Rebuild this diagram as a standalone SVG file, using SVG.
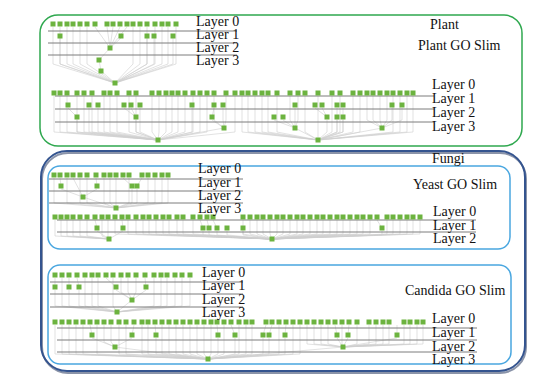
<svg xmlns="http://www.w3.org/2000/svg" xmlns:xlink="http://www.w3.org/1999/xlink" width="541" height="380" viewBox="0 0 541 380">
<style>
.n{fill:#6cb33f}
.e{fill:none;stroke:#cfcfcf;stroke-width:.6}
.sep{stroke:#7d7d7d;stroke-width:1}
.t{font-family:"Liberation Serif","Times New Roman",serif;font-size:14px;fill:#111}
.box{fill:none}
</style>
<defs><rect id="s" class="n" x="-2.5" y="-2.5" width="5" height="5"/></defs>
<rect width="541" height="380" fill="#fff"/>
<g id="frames">
<rect id="plant-box" class="box" x="40" y="15" width="482" height="131" rx="18" stroke="#2fa84f" stroke-width="1.5"/>
<rect id="fungi-shadow" class="box" x="42" y="153" width="484" height="220" rx="26" stroke="#8a93a8" stroke-width="2"/>
<rect id="fungi-box" class="box" x="41" y="151" width="484" height="220" rx="26" stroke="#34548f" stroke-width="2"/>
<rect id="yeast-box" class="box" x="48" y="166" width="462" height="83" rx="12" stroke="#4aa7e0" stroke-width="1.5"/>
<rect id="candida-box" class="box" x="48" y="265" width="463" height="99" rx="12" stroke="#4aa7e0" stroke-width="1.5"/>
</g>
<g id="connectors">
<path class="e" d="M53 27V64L115 83M60 27V64L115 83M67 27V64L115 83M73 27V64L115 83M80 27V64L115 83M87 27V64L115 83M95 27L110 48M107 27L110 48M113 27L110 48M120 27L110 48M127 27L110 48M133 27V64L115 83M140 27V64L115 83M147 27V64L115 83M155 27V64L115 83M162 27V64L115 83M168 27V64L115 83M176 27V64L115 83M60 38V64L115 83M121 38L110 48M147 38V64L115 83M154 38V64L115 83M173 38V64L115 83M110 48L99 60L101 71L115 83"/>
<path class="e" d="M54 96V132L158 140M60 96V132L158 140M67 96V132L158 140M77 96V132L158 140M84 96V132L158 140M92 96V132L158 140M104 96V132L158 140M110 96V132L158 140M117 96V132L158 140M129 96V132L158 140M136 96V132L158 140M152 96V132L158 140M159 96V132L158 140M166 96V132L158 140M172 96V132L158 140M178 96V132L158 140M185 96V132L158 140M193 96V132L158 140M200 96V132L158 140M207 96V132L158 140M214 96V120L224 128M226 96V120L224 128M235 96V132L158 140M242 96V132L318 140M248 96V132L318 140M255 96V132L318 140M262 96V132L318 140M268 96V132L318 140M277 96V132L318 140M290 96V120L295 128M298 96V120L295 128M305 96V132L318 140M318 96V132L318 140M332 96V132L318 140M340 96V132L318 140M353 96V132L318 140M360 96V132L318 140M367 96V120L382 128M373 96V120L382 128M380 96V120L382 128M387 96V120L382 128M393 96V132L318 140M400 96V132L318 140M407 96V132L318 140M413 96V132L318 140M68 108L77 117M89 108V132L158 140M98 108V132L158 140M124 108L136 117M131 108L136 117M140 108V132L158 140M192 108V132L158 140M214 108L212 117M223 108V120L224 128M295 108V120L295 128M315 108L327 117M322 108L327 117M337 108V132L318 140M343 108V132L318 140M392 108V120L382 128M402 108V120L382 128M77 120V132L158 140M136 120V132L158 140M212 120L224 128M274 120L295 128M283 120L295 128M327 120V132L318 140M337 120V132L318 140M343 120V132L318 140M224 128L158 140M295 128L318 140M382 128L318 140"/>
<path class="e" d="M54 178V203L116 208M60 178L61 186M67 178V203L116 208M73 178L83 197M80 178V203L116 208M87 178V203L116 208M96 178L97 186M104 178V203L116 208M110 178V203L116 208M116 178V203L116 208M123 178L132 186M129 178V203L116 208M142 178L137 186M148 178V203L116 208M155 178V203L116 208M162 178V203L116 208M168 178V203L116 208M61 189L83 197M97 189L83 197M132 189V203L116 208M137 189V203L116 208M83 197L116 208"/>
<path class="e" d="M55 220V236L109 239M61 220V236L109 239M67 220V236L109 239M73 220V236L109 239M80 220V236L109 239M87 220V236L109 239M95 220L97 228M102 220V236L109 239M108 220V236L109 239M115 220V234L272 239M122 220L123 228M128 220V234L272 239M136 220V234L272 239M143 220V234L272 239M149 220V234L272 239M156 220V234L272 239M163 220V234L272 239M169 220V234L272 239M177 220V234L272 239M183 220V234L272 239M193 220V234L272 239M200 220L203 228M207 220L209 228M213 220L217 228M243 220V234L272 239M250 220V234L272 239M257 220V234L272 239M263 220V234L272 239M270 220V234L272 239M277 220V234L272 239M283 220V234L272 239M290 220V234L272 239M297 220V234L272 239M303 220V234L272 239M310 220V234L272 239M317 220V234L272 239M323 220V234L272 239M330 220V234L272 239M337 220V234L272 239M343 220V234L272 239M350 220V234L272 239M357 220V234L272 239M363 220V234L272 239M370 220V234L272 239M377 220L382 228M387 220V234L272 239M393 220V234L272 239M400 220V234L272 239M407 220V234L272 239M413 220V234L272 239M420 220V234L272 239M97 231L109 239M123 231L109 239M203 231V235L272 239M209 231V235L272 239M217 231V235L272 239M227 231V235L272 239M243 231V235L272 239M382 231V235L272 239"/>
<path class="e" d="M55 278V284L55 287M62 278V306L117 312M69 278L69 287M77 278L79 287M85 278V306L117 312M92 278V306L117 312M98 278V306L117 312M106 278L116 287M113 278V306L117 312M121 278V292L132 300M128 278V292L132 300M136 278V292L132 300M145 278L146 287M154 278V306L117 312M161 278V306L117 312M167 278V306L117 312M175 278V306L117 312M182 278V306L117 312M190 278V306L117 312M55 290V306L117 312M69 290V306L117 312M79 290V306L117 312M116 290L132 300M146 290L132 300M132 300L117 312"/>
<path class="e" d="M55 325V354L208 359M62 325V354L208 359M69 325V354L208 359M76 325V354L208 359M83 325V354L208 359M90 325L92 335M97 325V354L208 359M104 325V342L115 347M111 325V342L115 347M119 325V354L208 359M126 325V354L208 359M134 325L132 335M142 325V354L208 359M148 325V354L208 359M155 325L156 335M162 325V354L208 359M169 325V354L208 359M176 325V354L208 359M183 325V354L208 359M190 325V354L208 359M197 325V354L208 359M204 325V354L208 359M211 325V354L208 359M217 325L218 335M224 325V354L208 359M231 325L235 335M239 325V354L208 359M246 325V354L208 359M252 325V354L208 359M266 325L263 335M272 325L269 335M279 325V354L208 359M286 325L285 335M293 325V354L208 359M300 325V354L208 359M307 325V344L343 347M314 325V344L343 347M321 325V344L343 347M328 325V344L343 347M335 325L337 335M342 325V344L343 347M349 325L348 335M357 325V344L343 347M369 325V344L343 347M376 325V344L343 347M383 325V344L343 347M389 325V344L343 347M397 325L397 335M404 325V344L343 347M410 325V344L343 347M417 325V344L343 347M423 325V344L343 347M92 338L115 347M132 338L115 347M156 338V354L208 359M218 338V354L208 359M235 338V354L208 359M263 338V354L208 359M269 338V354L208 359M285 338V354L208 359M337 338L343 347M348 338L343 347M397 338L343 347M115 347L208 359M343 347L208 359"/>
</g>
<g id="separators">
<path class="sep" d="M48 31H237M48 43H237M48 55H237"/>
<path class="sep" d="M55 96H434M55 109H434M55 122H434"/>
<path class="sep" d="M49 179H243M49 191H243M49 203H243"/>
<path class="sep" d="M57 220H476M57 232H476"/>
<path class="sep" d="M50 282H243M50 294H243M50 307H243"/>
<path class="sep" d="M57 328H477M57 340H477M57 352H477"/>
</g>
<g id="plant1-layer0"><use href="#s" x="53" y="24"/><use href="#s" x="60" y="24"/><use href="#s" x="67" y="24"/><use href="#s" x="73" y="24"/><use href="#s" x="80" y="24"/><use href="#s" x="87" y="24"/><use href="#s" x="95" y="24"/><use href="#s" x="107" y="24"/><use href="#s" x="113" y="24"/><use href="#s" x="120" y="24"/><use href="#s" x="127" y="24"/><use href="#s" x="133" y="24"/><use href="#s" x="140" y="24"/><use href="#s" x="147" y="24"/><use href="#s" x="155" y="24"/><use href="#s" x="162" y="24"/><use href="#s" x="168" y="24"/><use href="#s" x="176" y="24"/></g>
<g id="plant1-layer1"><use href="#s" x="60" y="36"/><use href="#s" x="121" y="36"/><use href="#s" x="147" y="36"/><use href="#s" x="154" y="36"/><use href="#s" x="173" y="36"/></g>
<g id="plant1-deep"><use href="#s" x="110" y="48"/><use href="#s" x="99" y="60"/><use href="#s" x="101" y="71"/><use href="#s" x="115" y="83"/></g>
<g id="plant2-layer0"><use href="#s" x="54" y="93"/><use href="#s" x="60" y="93"/><use href="#s" x="67" y="93"/><use href="#s" x="77" y="93"/><use href="#s" x="84" y="93"/><use href="#s" x="92" y="93"/><use href="#s" x="104" y="93"/><use href="#s" x="110" y="93"/><use href="#s" x="117" y="93"/><use href="#s" x="129" y="93"/><use href="#s" x="136" y="93"/><use href="#s" x="152" y="93"/><use href="#s" x="159" y="93"/><use href="#s" x="166" y="93"/><use href="#s" x="172" y="93"/><use href="#s" x="178" y="93"/><use href="#s" x="185" y="93"/><use href="#s" x="193" y="93"/><use href="#s" x="200" y="93"/><use href="#s" x="207" y="93"/><use href="#s" x="214" y="93"/><use href="#s" x="226" y="93"/><use href="#s" x="235" y="93"/><use href="#s" x="242" y="93"/><use href="#s" x="248" y="93"/><use href="#s" x="255" y="93"/><use href="#s" x="262" y="93"/><use href="#s" x="268" y="93"/><use href="#s" x="277" y="93"/><use href="#s" x="290" y="93"/><use href="#s" x="298" y="93"/><use href="#s" x="305" y="93"/><use href="#s" x="318" y="93"/><use href="#s" x="332" y="93"/><use href="#s" x="340" y="93"/><use href="#s" x="353" y="93"/><use href="#s" x="360" y="93"/><use href="#s" x="367" y="93"/><use href="#s" x="373" y="93"/><use href="#s" x="380" y="93"/><use href="#s" x="387" y="93"/><use href="#s" x="393" y="93"/><use href="#s" x="400" y="93"/><use href="#s" x="407" y="93"/><use href="#s" x="413" y="93"/></g>
<g id="plant2-layer1"><use href="#s" x="68" y="105"/><use href="#s" x="89" y="105"/><use href="#s" x="98" y="105"/><use href="#s" x="124" y="105"/><use href="#s" x="131" y="105"/><use href="#s" x="140" y="105"/><use href="#s" x="192" y="105"/><use href="#s" x="214" y="105"/><use href="#s" x="223" y="105"/><use href="#s" x="295" y="105"/><use href="#s" x="315" y="105"/><use href="#s" x="322" y="105"/><use href="#s" x="337" y="105"/><use href="#s" x="343" y="105"/><use href="#s" x="392" y="105"/><use href="#s" x="402" y="105"/></g>
<g id="plant2-layer2"><use href="#s" x="77" y="117"/><use href="#s" x="136" y="117"/><use href="#s" x="212" y="117"/><use href="#s" x="274" y="117"/><use href="#s" x="283" y="117"/><use href="#s" x="327" y="117"/><use href="#s" x="337" y="117"/><use href="#s" x="343" y="117"/></g>
<g id="plant2-layer3"><use href="#s" x="224" y="128"/><use href="#s" x="295" y="128"/><use href="#s" x="382" y="128"/></g>
<g id="plant2-roots"><use href="#s" x="158" y="140"/><use href="#s" x="318" y="140"/></g>
<g id="yeast1-layer0"><use href="#s" x="54" y="175"/><use href="#s" x="60" y="175"/><use href="#s" x="67" y="175"/><use href="#s" x="73" y="175"/><use href="#s" x="80" y="175"/><use href="#s" x="87" y="175"/><use href="#s" x="96" y="175"/><use href="#s" x="104" y="175"/><use href="#s" x="110" y="175"/><use href="#s" x="116" y="175"/><use href="#s" x="123" y="175"/><use href="#s" x="129" y="175"/><use href="#s" x="142" y="175"/><use href="#s" x="148" y="175"/><use href="#s" x="155" y="175"/><use href="#s" x="162" y="175"/><use href="#s" x="168" y="175"/></g>
<g id="yeast1-layer1"><use href="#s" x="61" y="186"/><use href="#s" x="97" y="186"/><use href="#s" x="132" y="186"/><use href="#s" x="137" y="186"/></g>
<g id="yeast1-deep"><use href="#s" x="83" y="197"/><use href="#s" x="116" y="208"/></g>
<g id="yeast2-layer0"><use href="#s" x="55" y="217"/><use href="#s" x="61" y="217"/><use href="#s" x="67" y="217"/><use href="#s" x="73" y="217"/><use href="#s" x="80" y="217"/><use href="#s" x="87" y="217"/><use href="#s" x="95" y="217"/><use href="#s" x="102" y="217"/><use href="#s" x="108" y="217"/><use href="#s" x="115" y="217"/><use href="#s" x="122" y="217"/><use href="#s" x="128" y="217"/><use href="#s" x="136" y="217"/><use href="#s" x="143" y="217"/><use href="#s" x="149" y="217"/><use href="#s" x="156" y="217"/><use href="#s" x="163" y="217"/><use href="#s" x="169" y="217"/><use href="#s" x="177" y="217"/><use href="#s" x="183" y="217"/><use href="#s" x="193" y="217"/><use href="#s" x="200" y="217"/><use href="#s" x="207" y="217"/><use href="#s" x="213" y="217"/><use href="#s" x="243" y="217"/><use href="#s" x="250" y="217"/><use href="#s" x="257" y="217"/><use href="#s" x="263" y="217"/><use href="#s" x="270" y="217"/><use href="#s" x="277" y="217"/><use href="#s" x="283" y="217"/><use href="#s" x="290" y="217"/><use href="#s" x="297" y="217"/><use href="#s" x="303" y="217"/><use href="#s" x="310" y="217"/><use href="#s" x="317" y="217"/><use href="#s" x="323" y="217"/><use href="#s" x="330" y="217"/><use href="#s" x="337" y="217"/><use href="#s" x="343" y="217"/><use href="#s" x="350" y="217"/><use href="#s" x="357" y="217"/><use href="#s" x="363" y="217"/><use href="#s" x="370" y="217"/><use href="#s" x="377" y="217"/><use href="#s" x="387" y="217"/><use href="#s" x="393" y="217"/><use href="#s" x="400" y="217"/><use href="#s" x="407" y="217"/><use href="#s" x="413" y="217"/><use href="#s" x="420" y="217"/></g>
<g id="yeast2-layer1"><use href="#s" x="97" y="228"/><use href="#s" x="123" y="228"/><use href="#s" x="203" y="228"/><use href="#s" x="209" y="228"/><use href="#s" x="217" y="228"/><use href="#s" x="227" y="228"/><use href="#s" x="243" y="228"/><use href="#s" x="382" y="228"/></g>
<g id="yeast2-layer2"><use href="#s" x="109" y="239"/><use href="#s" x="272" y="239"/></g>
<g id="candida1-layer0"><use href="#s" x="55" y="275"/><use href="#s" x="62" y="275"/><use href="#s" x="69" y="275"/><use href="#s" x="77" y="275"/><use href="#s" x="85" y="275"/><use href="#s" x="92" y="275"/><use href="#s" x="98" y="275"/><use href="#s" x="106" y="275"/><use href="#s" x="113" y="275"/><use href="#s" x="121" y="275"/><use href="#s" x="128" y="275"/><use href="#s" x="136" y="275"/><use href="#s" x="145" y="275"/><use href="#s" x="154" y="275"/><use href="#s" x="161" y="275"/><use href="#s" x="167" y="275"/><use href="#s" x="175" y="275"/><use href="#s" x="182" y="275"/><use href="#s" x="190" y="275"/></g>
<g id="candida1-layer1"><use href="#s" x="55" y="287"/><use href="#s" x="69" y="287"/><use href="#s" x="79" y="287"/><use href="#s" x="116" y="287"/><use href="#s" x="146" y="287"/></g>
<g id="candida1-deep"><use href="#s" x="132" y="300"/><use href="#s" x="117" y="312"/></g>
<g id="candida2-layer0"><use href="#s" x="55" y="322"/><use href="#s" x="62" y="322"/><use href="#s" x="69" y="322"/><use href="#s" x="76" y="322"/><use href="#s" x="83" y="322"/><use href="#s" x="90" y="322"/><use href="#s" x="97" y="322"/><use href="#s" x="104" y="322"/><use href="#s" x="111" y="322"/><use href="#s" x="119" y="322"/><use href="#s" x="126" y="322"/><use href="#s" x="134" y="322"/><use href="#s" x="142" y="322"/><use href="#s" x="148" y="322"/><use href="#s" x="155" y="322"/><use href="#s" x="162" y="322"/><use href="#s" x="169" y="322"/><use href="#s" x="176" y="322"/><use href="#s" x="183" y="322"/><use href="#s" x="190" y="322"/><use href="#s" x="197" y="322"/><use href="#s" x="204" y="322"/><use href="#s" x="211" y="322"/><use href="#s" x="217" y="322"/><use href="#s" x="224" y="322"/><use href="#s" x="231" y="322"/><use href="#s" x="239" y="322"/><use href="#s" x="246" y="322"/><use href="#s" x="252" y="322"/><use href="#s" x="266" y="322"/><use href="#s" x="272" y="322"/><use href="#s" x="279" y="322"/><use href="#s" x="286" y="322"/><use href="#s" x="293" y="322"/><use href="#s" x="300" y="322"/><use href="#s" x="307" y="322"/><use href="#s" x="314" y="322"/><use href="#s" x="321" y="322"/><use href="#s" x="328" y="322"/><use href="#s" x="335" y="322"/><use href="#s" x="342" y="322"/><use href="#s" x="349" y="322"/><use href="#s" x="357" y="322"/><use href="#s" x="369" y="322"/><use href="#s" x="376" y="322"/><use href="#s" x="383" y="322"/><use href="#s" x="389" y="322"/><use href="#s" x="404" y="322"/><use href="#s" x="410" y="322"/><use href="#s" x="417" y="322"/><use href="#s" x="423" y="322"/></g>
<g id="candida2-layer1"><use href="#s" x="92" y="335"/><use href="#s" x="132" y="335"/><use href="#s" x="156" y="335"/><use href="#s" x="218" y="335"/><use href="#s" x="235" y="335"/><use href="#s" x="263" y="335"/><use href="#s" x="269" y="335"/><use href="#s" x="285" y="335"/><use href="#s" x="337" y="335"/><use href="#s" x="348" y="335"/><use href="#s" x="397" y="335"/></g>
<g id="candida2-layer2"><use href="#s" x="115" y="347"/><use href="#s" x="343" y="347"/></g>
<g id="candida2-root"><use href="#s" x="208" y="359"/></g>
<g id="labels">
<text class="t" x="430" y="29">Plant</text>
<text class="t" x="418" y="50">Plant GO Slim</text>
<text class="t" x="196" y="26">Layer 0</text><text class="t" x="196" y="39">Layer 1</text><text class="t" x="196" y="52">Layer 2</text><text class="t" x="196" y="65">Layer 3</text>
<text class="t" x="432" y="89">Layer 0</text><text class="t" x="432" y="103">Layer 1</text><text class="t" x="432" y="117">Layer 2</text><text class="t" x="432" y="131">Layer 3</text>
<text class="t" x="432" y="163">Fungi</text>
<text class="t" x="413" y="189">Yeast GO Slim</text>
<text class="t" x="198" y="173">Layer 0</text><text class="t" x="198" y="187">Layer 1</text><text class="t" x="198" y="200">Layer 2</text><text class="t" x="198" y="213">Layer 3</text>
<text class="t" x="433" y="216">Layer 0</text><text class="t" x="433" y="230">Layer 1</text><text class="t" x="433" y="243">Layer 2</text>
<text class="t" x="405" y="295">Candida GO Slim</text>
<text class="t" x="202" y="277">Layer 0</text><text class="t" x="202" y="290">Layer 1</text><text class="t" x="202" y="304">Layer 2</text><text class="t" x="202" y="317">Layer 3</text>
<text class="t" x="432" y="323">Layer 0</text><text class="t" x="432" y="337">Layer 1</text><text class="t" x="432" y="351">Layer 2</text><text class="t" x="432" y="364">Layer 3</text>
</g>
</svg>
